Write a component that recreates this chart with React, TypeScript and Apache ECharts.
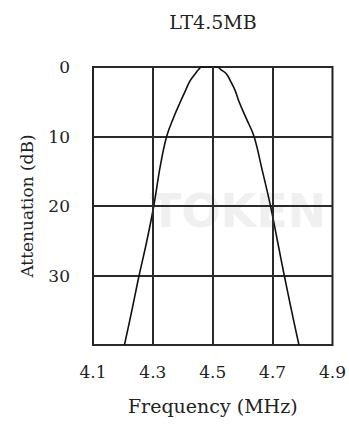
import React, { useEffect, useRef } from "react";
import * as echarts from "echarts";

const titleText = "LT4.5MB";
const xName = "Frequency (MHz)";
const yName = "Attenuation (dB)";
const freq = [4.205, 4.23, 4.254, 4.28, 4.303, 4.325, 4.346, 4.37, 4.392, 4.41, 4.424, 4.441, 4.452, 4.463, 4.49, 4.515, 4.528, 4.546, 4.559, 4.575, 4.588, 4.612, 4.638, 4.665, 4.693, 4.716, 4.739, 4.763, 4.788];
const atten = [40, 35, 30, 25, 20, 14.2, 10, 7.2, 5, 3.3, 2, 1, 0.4, 0, 0, 0, 0.4, 1, 2, 3.4, 5, 7.4, 10, 14.8, 20, 25, 30, 35, 40];
const xGridLines = [4.3, 4.5, 4.7];
const xLabelValues = [4.1, 4.3, 4.5, 4.7, 4.9];
const yLabelValues = [0, 10, 20, 30];

const FONT = "DejaVu Serif";

export default function App() {
  const ref = useRef<HTMLDivElement>(null);
  useEffect(() => {
    if (!ref.current) return;
    const chart = echarts.init(ref.current, null, { renderer: "svg" });
    const data = freq.map((f, i) => [f, atten[i]]);
    chart.setOption({
      animation: false,
      backgroundColor: "#ffffff",
      title: {
        text: titleText,
        left: 208,
        top: 7,
        textAlign: "center",
        textStyle: { fontFamily: FONT, fontSize: 19, fontWeight: "normal", color: "#222" },
      },
      graphic: [
        {
          type: "text",
          z: -10,
          left: 150,
          top: 188,
          style: { text: "TOKEN", fontSize: 46, fontWeight: "bold", fontFamily: "DejaVu Sans", fill: "#f0f0f0" },
        },
      ],
      grid: {
        left: 93,
        right: 12,
        top: 67,
        bottom: 79,
        show: true,
        borderColor: "#222",
        borderWidth: 2,
      },
      xAxis: {
        type: "value",
        min: 4.1,
        max: 4.9,
        interval: 0.1,
        name: xName,
        nameLocation: "middle",
        nameGap: 51,
        nameTextStyle: { fontFamily: FONT, fontSize: 19, color: "#222" },
        axisLine: { show: false },
        axisTick: { show: false },
        splitLine: { show: false },
        axisLabel: {
          fontFamily: FONT,
          fontSize: 17,
          color: "#222",
          margin: 18,
          showMaxLabel: true,
          showMinLabel: true,
          formatter: (v: number) => {
            const r = Math.round(v * 10) / 10;
            return xLabelValues.some((x) => Math.abs(x - r) < 1e-6) ? r.toFixed(1) : "";
          },
        },
      },
      yAxis: {
        type: "value",
        inverse: true,
        min: 0,
        max: 40,
        interval: 10,
        name: yName,
        nameLocation: "middle",
        nameGap: 58,
        nameRotate: 90,
        nameTextStyle: { fontFamily: FONT, fontSize: 17, color: "#222" },
        axisLine: { show: false },
        axisTick: { show: false },
        splitLine: { show: true, lineStyle: { color: "#2a2a2a", width: 2 } },
        axisLabel: {
          fontFamily: FONT,
          fontSize: 17,
          color: "#222",
          margin: 23,
          formatter: (v: number) => (yLabelValues.includes(v) ? String(v) : ""),
        },
      },
      series: [
        {
          type: "line",
          data,
          smooth: 0.4,
          showSymbol: false,
          symbol: "none",
          lineStyle: { color: "#111", width: 1.6 },
          markLine: {
            silent: true,
            symbol: "none",
            label: { show: false },
            lineStyle: { color: "#2a2a2a", width: 2, type: "solid" },
            data: xGridLines.map((x) => ({ xAxis: x })),
          },
        },
      ],
    });
    return () => chart.dispose();
  }, []);
  return (
    <div
      ref={ref}
      style={{ position: "fixed", left: 0, top: 0, width: 349, height: 424, background: "#fff" }}
    />
  );
}
